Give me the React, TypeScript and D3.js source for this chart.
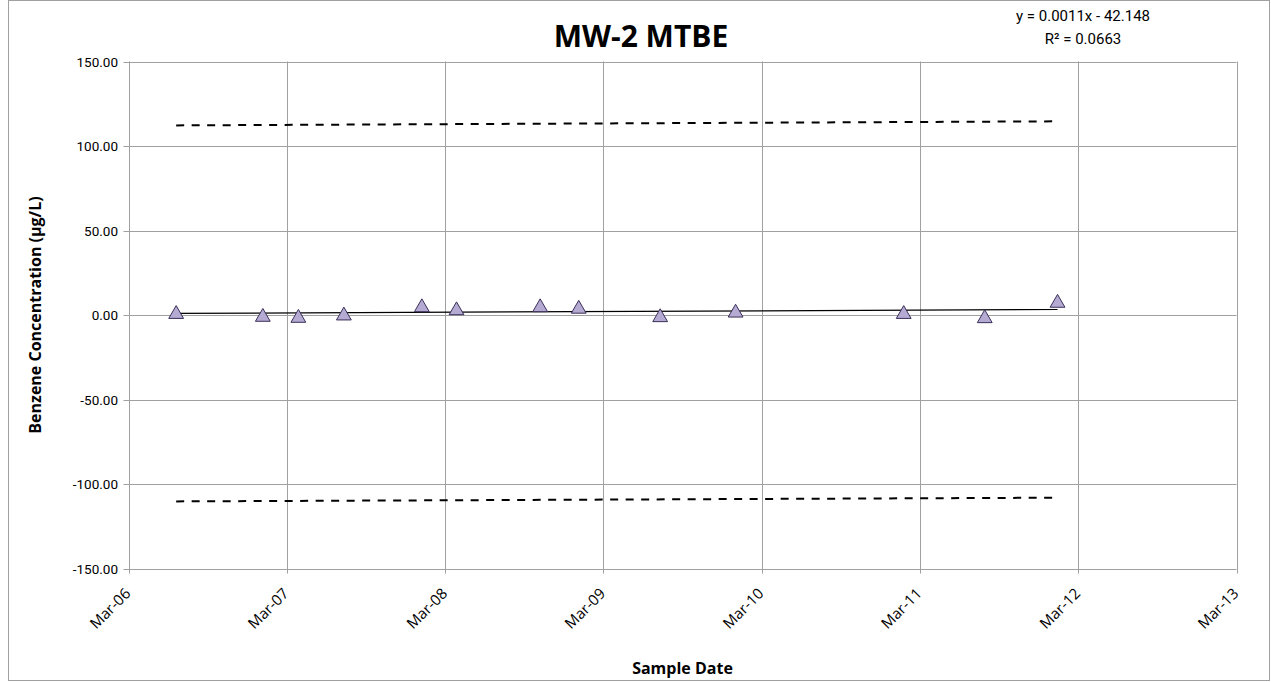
import React from "react";
import * as d3 from "d3";

const sampleDates = [
  "2006-06-19", "2007-01-05", "2007-03-28", "2007-07-11", "2008-01-07",
  "2008-03-27", "2008-10-06", "2009-01-03", "2009-07-10", "2009-12-31",
  "2011-01-23", "2011-07-29", "2012-01-13",
];
const concentrations = [1.1, -0.6, -1.2, 0.2, 5.1, 3.3, 5.1, 4.2, -0.8, 1.9, 1.1, -1.4, 7.7];
const upperLimit = [112.2, 114.6];
const lowerLimit = [-110.3, -108.1];
const yTicks = [-150, -100, -50, 0, 50, 100, 150];
const xTickDates = ["2006-03-01", "2007-03-01", "2008-03-01", "2009-03-01", "2010-03-01", "2011-03-01", "2012-03-01", "2013-03-01"];
const title = "MW-2 MTBE";
const equation = "y = 0.0011x - 42.148";
const rSquared = "R² = 0.0663";

const W = 1271;
const H = 682;
const left = 128.5;
const right = 1236.5;
const top = 61.5;
const bottom = 568.5;

export default function App() {
  const parse = d3.timeParse("%Y-%m-%d");
  const dates = sampleDates.map((d) => parse(d) as Date);
  const ticks = xTickDates.map((d) => parse(d) as Date);
  const x = d3.scaleTime().domain([ticks[0], ticks[ticks.length - 1]]).range([left, right]);
  const y = d3.scaleLinear().domain([-150, 150]).range([bottom, top]);
  const fmt = d3.timeFormat("%b-%y");

  // linear regression (x in days)
  const xs = dates.map((d) => d.getTime() / 86400000);
  const n = xs.length;
  const mx = d3.mean(xs) as number;
  const my = d3.mean(concentrations) as number;
  let sxy = 0, sxx = 0;
  xs.forEach((v, i) => { sxy += (v - mx) * (concentrations[i] - my); sxx += (v - mx) * (v - mx); });
  const slope = sxy / sxx;
  const intercept = my - slope * mx;
  const d0 = dates[0];
  const d1 = dates[n - 1];
  const line = d3.line<[Date, number]>().x((d) => x(d[0])).y((d) => y(d[1]));
  const trend: [Date, number][] = [d0, d1].map((d) => [d, intercept + slope * (d.getTime() / 86400000)]);
  const upper: [Date, number][] = [[d0, upperLimit[0]], [d1, upperLimit[1]]];
  const lower: [Date, number][] = [[d0, lowerLimit[0]], [d1, lowerLimit[1]]];
  const tri = d3.symbol().type(d3.symbolTriangle).size(95)() as string;

  const grid = "#a0a0a0";
  return (
    <svg width={W} height={H} style={{ position: "absolute", left: 0, top: 0 }}>
      <rect x={0} y={0} width={W} height={H} fill="#fff" />
      <rect x={8.5} y={0.5} width={1261} height={680} fill="none" stroke="#a0a0a0" />
      {yTicks.map((t) => (
        <g key={"y" + t}>
          <line x1={left - 5} x2={right} y1={Math.round(y(t)) + 0.5} y2={Math.round(y(t)) + 0.5} stroke={grid} />
          <text x={118} y={y(t) + 5} textAnchor="end" fontFamily="Roboto" fontSize={13.5} fill="#000">
            {t.toFixed(2)}
          </text>
        </g>
      ))}
      {ticks.map((t, i) => (
        <g key={"x" + i}>
          <line x1={Math.round(x(t)) + 0.5} x2={Math.round(x(t)) + 0.5} y1={top} y2={bottom + 5} stroke={grid} />
          <text
            transform={`translate(${x(t) + 3},${bottom + 26}) rotate(-45)`}
            textAnchor="end"
            fontFamily="Open Sans"
            fontSize={15}
            fill="#000"
          >
            {fmt(t)}
          </text>
        </g>
      ))}
      <path d={line(upper) as string} fill="none" stroke="#000" strokeWidth={2} strokeDasharray="8,7.5" />
      <path d={line(lower) as string} fill="none" stroke="#000" strokeWidth={2} strokeDasharray="8,7.5" />
      <path d={line(trend) as string} fill="none" stroke="#000" strokeWidth={1.2} />
      {dates.map((d, i) => (
        <path
          key={"p" + i}
          d={tri}
          transform={`translate(${x(d)},${y(concentrations[i]) + 1})`}
          fill="#b4aad2"
          stroke="#3b2f58"
          strokeWidth={1}
        />
      ))}
      <text x={641} y={47} textAnchor="middle" fontFamily="Open Sans" fontWeight="bold" fontSize={30} fill="#000">
        {title}
      </text>
      <text x={1083} y={21} textAnchor="middle" fontFamily="Roboto" fontSize={15} fill="#000">
        {equation}
      </text>
      <text x={1083} y={44} textAnchor="middle" fontFamily="Roboto" fontSize={15} fill="#000">
        {rSquared}
      </text>
      <text
        transform={`translate(41,${(top + bottom) / 2}) rotate(-90)`}
        textAnchor="middle"
        fontFamily="Open Sans"
        fontWeight="bold"
        fontSize={16}
        fill="#000"
      >
        Benzene Concentration (µg/L)
      </text>
      <text x={(left + right) / 2} y={674} textAnchor="middle" fontFamily="Open Sans" fontWeight="bold" fontSize={16} fill="#000">
        Sample Date
      </text>
    </svg>
  );
}
